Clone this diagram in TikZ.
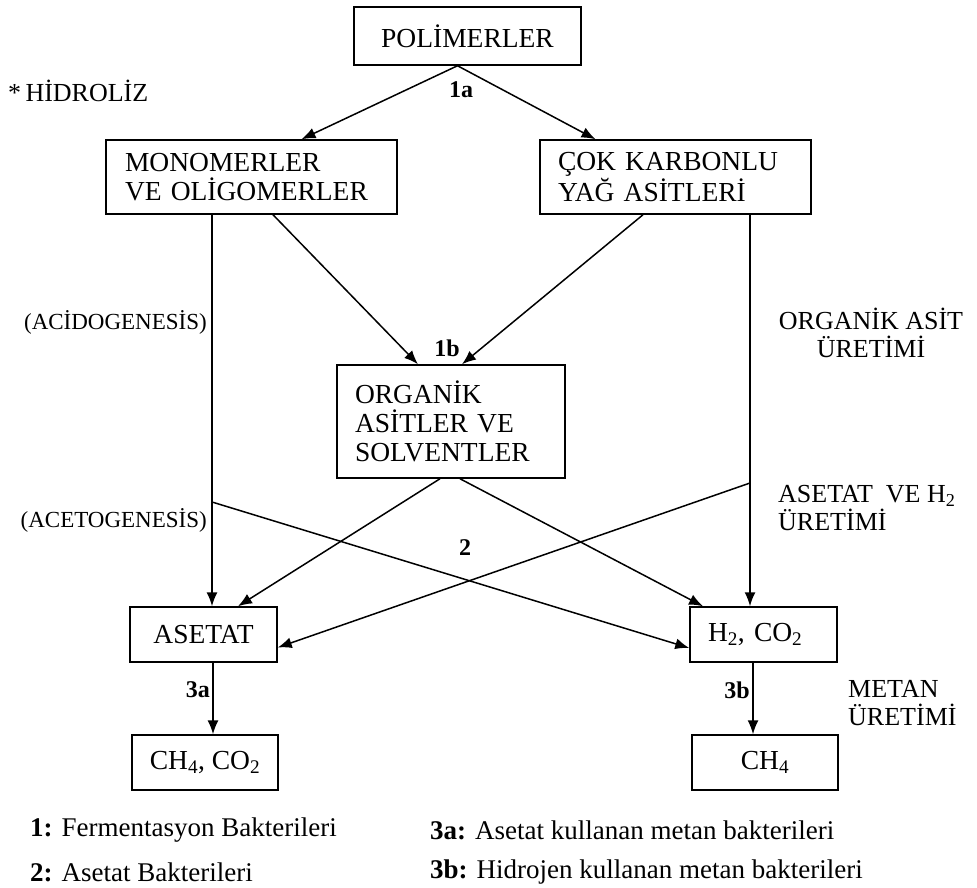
\documentclass[tikz,border=0pt]{standalone}
\usepackage{fontspec}
\setmainfont{Liberation Serif}
\usetikzlibrary{arrows.meta,calc}

\begin{document}
\begin{tikzpicture}[x=1pt,y=-1pt,
  box/.style={draw, line width=1.5pt, inner sep=0pt,
    font=\fontsize{27.5}{29}\selectfont},
  arr/.style={line width=1.5pt, -{Latex[length=14pt,width=11pt]}},
  num/.style={font=\fontsize{24}{26}\selectfont\bfseries, inner sep=0pt},
  side/.style={font=\fontsize{26}{28}\selectfont, inner sep=0pt},
  leg/.style={font=\fontsize{27}{29}\selectfont, inner sep=0pt, anchor=west}]

\useasboundingbox (0,0) rectangle (977,888);

% boxes
\node[box, minimum width=227pt, minimum height=58pt] (pol) at (467.5,36) {POLİMERLER};
\node[box, minimum width=291pt, minimum height=74pt, text width=253pt, align=left] (mono) at (251.5,177)
  {MONOMERLER\\VE OLİGOMERLER};
\node[box, minimum width=271pt, minimum height=74pt, text width=235pt, align=left] (cok) at (675.5,177)
  {ÇOK KARBONLU\\YAĞ ASİTLERİ};
\node[box, minimum width=228pt, minimum height=113pt, text width=192pt, align=left] (org) at (451,421.5)
  {ORGANİK\\ASİTLER VE\\SOLVENTLER};
\node[box, minimum width=147pt, minimum height=55pt] (aset) at (203.5,634.5) {ASETAT};
\node[box, minimum width=147pt, minimum height=55pt, text width=111pt, align=left] (h2) at (763.5,634.5)
  {H\textsubscript{2}, CO\textsubscript{2}};
\node[box, minimum width=146pt, minimum height=55pt] (ch4co2) at (205,762.5) {CH\textsubscript{4}, CO\textsubscript{2}};
\node[box, minimum width=146pt, minimum height=55pt] (ch4) at (765,762.5) {CH\textsubscript{4}};

% hydrolysis
\draw[arr] ($(pol.south)+(-10,0)$) -- ($(mono.north)+(50,0)$);
\draw[arr] ($(pol.south)+(-10,0)$) -- ($(cok.north)+(-80,0)$);

% acidogenesis
\coordinate (lcol) at ($(mono.south)+(-39.5,0)$);
\coordinate (rcol) at ($(cok.south)+(74.5,0)$);
\draw[arr] (lcol) -- (lcol |- aset.north);
\draw[arr] (rcol) -- (rcol |- h2.north);
\draw[arr] ($(mono.south)+(21.5,0)$) -- ($(org.north)+(-33,0)$);
\draw[arr] ($(cok.south)+(-32.5,0)$) -- ($(org.north)+(11,0)$);

% acetogenesis
\draw[arr] ($(org.south)+(-11,0)$) -- ($(aset.north)+(34.5,0)$);
\draw[arr] ($(org.south)+(9,0)$) -- ($(h2.north)+(-60.5,0)$);
\coordinate (lx) at (lcol |- 0,502);
\coordinate (rx) at (rcol |- 0,483);
\draw[arr] (lx) -- ($(h2.west)+(0,13.5)$);
\draw[arr] (rx) -- ($(aset.east)+(0,13)$);

% methanogenesis
\coordinate (a3) at ($(aset.south)+(9.5,0)$);
\coordinate (b3) at ($(h2.south)+(-10.5,0)$);
\draw[arr] (a3) -- (a3 |- ch4co2.north);
\draw[arr] (b3) -- (b3 |- ch4.north);

% step numbers
\node[num] (n1a) at (461,90) {1a};
\node[num] (n1b) at (447,348) {1b};
\node[num] (n2) at (465,548) {2};
\node[num, anchor=east] (n3a) at (210,690) {3a};
\node[num, anchor=east] (n3b) at (750,690) {3b};

% side labels
\node[side, anchor=west] (hid) at (8,91) {*\,HİDROLİZ};
\node[side, anchor=east, font=\fontsize{23}{25}\selectfont] (acid) at (207,322) {(ACİDOGENESİS)};
\node[side, anchor=east, font=\fontsize{23}{25}\selectfont] (acet) at (207,520) {(ACETOGENESİS)};
\node[side, align=center] (oau) at (871,333) {ORGANİK ASİT\\ÜRETİMİ};
\node[side, align=left, anchor=west] (avh) at (778,508) {ASETAT\ \ VE H\textsubscript{2}\\ÜRETİMİ};
\node[side, align=left, anchor=west] (mu) at (848,703) {METAN\\ÜRETİMİ};

% legend
\node[leg] (l1) at (30,830) {\textbf{1:} Fermentasyon Bakterileri};
\node[leg] (l2) at (30,872) {\textbf{2:} Asetat Bakterileri};
\node[leg] (l3a) at (430,830) {\textbf{3a:} Asetat kullanan metan bakterileri};
\node[leg] (l3b) at (430,872) {\textbf{3b:} Hidrojen kullanan metan bakterileri};

\end{tikzpicture}
\end{document}
